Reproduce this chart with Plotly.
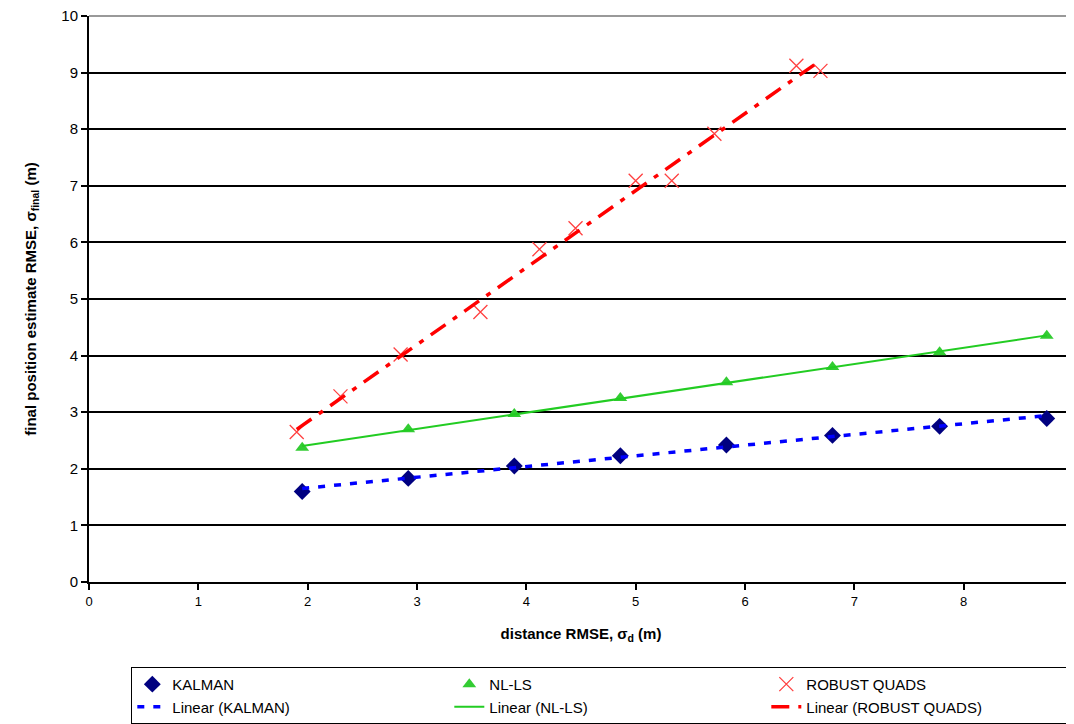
import numpy as np
import plotly.graph_objects as go

# ---- data ----
kalman_x = [1.95, 2.92, 3.89, 4.86, 5.83, 6.80, 7.78, 8.76]
kalman_y = [1.60, 1.83, 2.05, 2.23, 2.42, 2.59, 2.75, 2.89]

nlls_x = [1.95, 2.92, 3.89, 4.86, 5.83, 6.80, 7.78, 8.76]
nlls_y = [2.37, 2.70, 2.97, 3.25, 3.53, 3.80, 4.06, 4.35]

rq_x = [1.90, 2.30, 2.85, 3.58, 4.12, 4.45, 5.00, 5.33, 5.72, 6.47, 6.69]
rq_y = [2.65, 3.28, 4.02, 4.77, 5.88, 6.25, 7.09, 7.09, 7.92, 9.12, 9.03]

x_ticks = [0, 1, 2, 3, 4, 5, 6, 7, 8, 9]
y_ticks = [0, 1, 2, 3, 4, 5, 6, 7, 8, 9, 10]


def linfit(x, y):
    k, b = np.polyfit(x, y, 1)
    xs = [min(x), max(x)]
    return xs, [k * v + b for v in xs]


fig = go.Figure()

fig.add_trace(go.Scatter(x=kalman_x, y=kalman_y, mode="markers", name="KALMAN",
                         marker=dict(symbol="diamond", size=13, color="#000080")))
fig.add_trace(go.Scatter(x=nlls_x, y=nlls_y, mode="markers", name="NL-LS",
                         marker=dict(symbol="triangle-up", size=12, color="#33cc33")))
fig.add_trace(go.Scatter(x=rq_x, y=rq_y, mode="markers", name="ROBUST QUADS",
                         marker=dict(symbol="x-thin-open", size=14, color="#ff4040",
                                     line=dict(color="#ff4040", width=1.3))))

kx, ky = linfit(kalman_x, kalman_y)
fig.add_trace(go.Scatter(x=kx, y=ky, mode="lines", name="Linear (KALMAN)",
                         line=dict(color="#0000ff", width=3.5, dash="7px,9px")))
nx, ny = linfit(nlls_x, nlls_y)
fig.add_trace(go.Scatter(x=nx, y=ny, mode="lines", name="Linear (NL-LS)",
                         line=dict(color="#22cc22", width=2)))
rx, ry = linfit(rq_x, rq_y)
fig.add_trace(go.Scatter(x=rx, y=ry, mode="lines", name="Linear (ROBUST QUADS)",
                         line=dict(color="#ff0000", width=3.5, dash="18px,9px,5px,9px")))

font_family = "Liberation Sans, Arial, sans-serif"

fig.update_layout(
    width=1074, height=724,
    margin=dict(l=81, r=9, t=8, b=150, autoexpand=False),
    paper_bgcolor="white", plot_bgcolor="white",
    font=dict(family=font_family, color="black", size=13),
    showlegend=True,
    legend=dict(
        orientation="h", x=0.043, xanchor="left", y=-0.15, yanchor="top",
        entrywidth=272, entrywidthmode="pixels",
        bordercolor="black", borderwidth=1, bgcolor="white",
        font=dict(size=15, family=font_family), traceorder="normal",
        tracegroupgap=0,
    ),
    xaxis=dict(
        range=[0, 9], tickvals=x_ticks, ticktext=[str(v) for v in x_ticks],
        showgrid=False, zeroline=False, showline=True, linecolor="black", linewidth=2,
        ticks="outside", ticklen=6, tickwidth=1.5, tickcolor="black",
        tickfont=dict(size=13), ticklabeloverflow="allow",
        title=dict(text="<b>distance RMSE, σ<sub>d</sub> (m)</b>", font=dict(size=15), standoff=21),
    ),
    yaxis=dict(
        range=[0, 10], tickvals=y_ticks,
        showgrid=True, gridcolor="black", gridwidth=1.5,
        zeroline=False, showline=True, linecolor="black", linewidth=2,
        ticks="outside", ticklen=6, tickwidth=1.5, tickcolor="black",
        tickfont=dict(size=15), ticklabeloverflow="allow",
        title=dict(text="<b>final position estimate RMSE, σ<sub>final</sub> (m)</b>",
                   font=dict(size=15), standoff=21),
    ),
    shapes=[dict(type="line", xref="paper", yref="paper", x0=0, x1=1, y0=1, y1=1,
                 line=dict(color="#999999", width=2))],
)

fig.write_html("out.html")
